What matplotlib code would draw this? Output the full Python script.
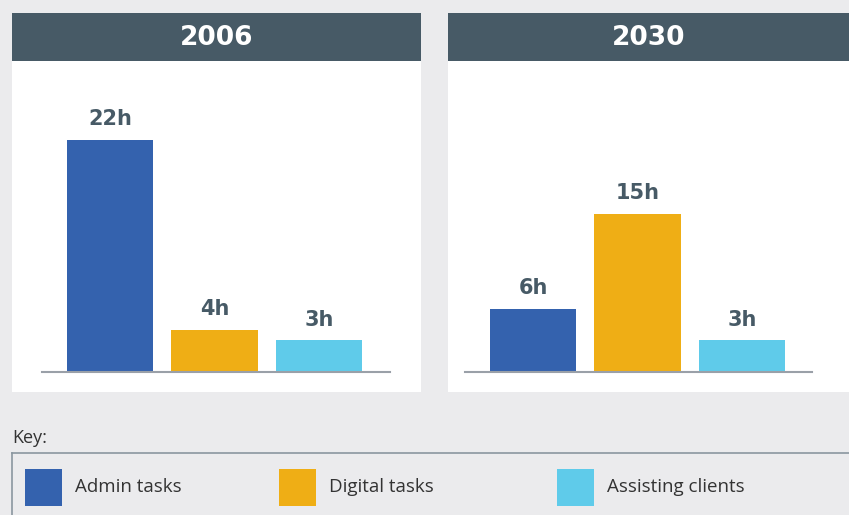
import matplotlib
matplotlib.use("Agg")
import matplotlib.pyplot as plt
from matplotlib.patches import Rectangle
from matplotlib.lines import Line2D

# data
years = ["2006", "2030"]
tasks = ["Admin tasks", "Digital tasks", "Assisting clients"]
hours_2006 = [22, 4, 3]
hours_2030 = [6, 15, 3]
colors = ["#3462ae", "#efae15", "#5fcbea"]

W, H = 849, 515
bg = "#ebebed"
header = "#475a66"
label_col = "#475a66"

fig = plt.figure(figsize=(W / 100, H / 100), dpi=100, facecolor=bg)


def fx(x):
    return x / W


def fy(y):
    return 1 - y / H


def rect(x0, y0, x1, y1, color, **kw):
    fig.add_artist(Rectangle((fx(x0), fy(y1)), fx(x1 - x0), (y1 - y0) / H,
                             transform=fig.transFigure, color=color, lw=0, **kw))


panels = [
    # panel x-range, axes x-range
    ((12, 421), (42, 390)),
    ((448, 849), (465, 812)),
]
series = [hours_2006, hours_2030]

for year, vals, (px, ax_x) in zip(years, series, panels):
    rect(px[0], 61, px[1], 392, "white")
    rect(px[0], 13, px[1], 61, header)
    fig.text(fx((px[0] + px[1]) / 2), fy(38), year, color="white",
             fontsize=19, fontweight="bold", ha="center", va="center")

    ax = fig.add_axes([fx(ax_x[0]), fy(372), fx(ax_x[1] - ax_x[0]), (372 - 61) / H])
    ax.set_zorder(3)
    ax.set_facecolor("none")
    xs = range(len(vals))
    ax.bar(xs, vals, width=0.827, color=colors)
    ax.set_xlim(-68 / 104.5, (ax_x[1] - ax_x[0] - 68) / 104.5)
    ax.set_ylim(0, 311 / 10.55)
    for s in ["top", "right", "left"]:
        ax.spines[s].set_visible(False)
    ax.spines["bottom"].set_color("#9aa0a8")
    ax.spines["bottom"].set_linewidth(1.5)
    ax.set_xticks([])
    ax.set_yticks([])
    for x, v in zip(xs, vals):
        ax.annotate(f"{v}h", (x, v), xytext=(0, 10.5), textcoords="offset points",
                    ha="center", va="baseline", fontsize=15, fontweight="bold",
                    color=label_col)

# key
fig.text(fx(12), fy(443), "Key:", fontsize=13, color="#333333",
         family=["Open Sans", "DejaVu Sans"], ha="left", va="baseline")
fig.add_artist(Line2D([fx(12), fx(849)], [fy(453), fy(453)],
                      transform=fig.transFigure, color="#8a96a0", lw=1.2))
fig.add_artist(Line2D([fx(12), fx(12)], [fy(453), fy(515)],
                      transform=fig.transFigure, color="#8a96a0", lw=1.2))

key_x = [25, 279, 557]
for x0, name, c in zip(key_x, tasks, colors):
    rect(x0, 469, x0 + 37, 506, c)
    fig.text(fx(x0 + 50), fy(487), name, fontsize=13.5, color="#333333",
             family=["Open Sans", "DejaVu Sans"], ha="left", va="center")

fig.savefig("out.png", dpi=100, facecolor=bg)
